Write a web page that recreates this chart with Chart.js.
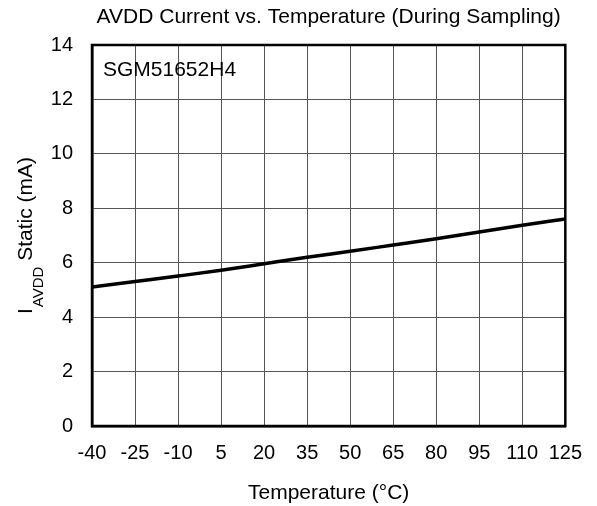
<!DOCTYPE html>
<html>
<head>
<meta charset="utf-8">
<script src="https://cdn.jsdelivr.net/npm/chart.js@4/dist/chart.umd.min.js"></script>
<style>
  html, body { margin: 0; padding: 0; background: #fff; }
  #wrap { width: 597px; height: 506px; }
</style>
</head>
<body>
<div id="wrap"><canvas id="avddChart" width="597" height="506"></canvas></div>
<script>
// Chart data
const temperatures = [-40, -25, -10, 5, 20, 35, 50, 65, 80, 95, 110, 125];
const avddCurrent = [5.11, 5.31, 5.51, 5.72, 5.96, 6.20, 6.42, 6.65, 6.88, 7.13, 7.38, 7.61];
const xTicks = [-40, -25, -10, 5, 20, 35, 50, 65, 80, 95, 110, 125];
const yTicks = [0, 2, 4, 6, 8, 10, 12, 14];

const FONT = "'Liberation Sans', Arial, sans-serif";

// Title over the plot, frame, annotation, y-axis title with subscript
const extrasPlugin = {
    id: 'extras',
    afterDraw(chart) {
        const ctx = chart.ctx;
        const a = chart.chartArea;
        ctx.save();
        ctx.strokeStyle = '#000';
        ctx.lineWidth = 2.5;
        ctx.strokeRect(a.left, a.top, a.right - a.left, a.bottom - a.top);

        ctx.fillStyle = '#000';
        ctx.font = '21px ' + FONT;
        ctx.textBaseline = 'middle';
        ctx.textAlign = 'center';
        ctx.fillText('AVDD Current vs. Temperature (During Sampling)', (a.left + a.right) / 2, 17);

        ctx.textBaseline = 'alphabetic';
        ctx.textAlign = 'left';
        ctx.fillText('SGM51652H4', a.left + 11, a.top + 31);

        // y-axis title: I_AVDD Static (mA)
        const mainFont = '21px ' + FONT;
        const subFont = '15px ' + FONT;
        ctx.font = mainFont;
        const wI = ctx.measureText('I').width;
        const wRest = ctx.measureText(' Static (mA)').width;
        ctx.font = subFont;
        const wSub = ctx.measureText('AVDD').width;
        const total = wI + 1 + wSub + wRest;
        const cy = (a.top + a.bottom) / 2;
        ctx.translate(32, cy + total / 2);
        ctx.rotate(-Math.PI / 2);
        ctx.font = mainFont;
        ctx.fillText('I', 0, 0);
        ctx.font = subFont;
        ctx.fillText('AVDD', wI + 1, 11);
        ctx.font = mainFont;
        ctx.fillText(' Static (mA)', wI + 1 + wSub, 0);
        ctx.restore();
    }
};

new Chart(document.getElementById('avddChart').getContext('2d'), {
    type: 'line',
    data: {
        datasets: [{
            data: temperatures.map((t, i) => ({ x: t, y: avddCurrent[i] })),
            borderColor: '#000',
            borderWidth: 3.5,
            pointRadius: 0,
            tension: 0.3,
            cubicInterpolationMode: 'monotone',
            fill: false
        }]
    },
    options: {
        responsive: false,
        animation: false,
        layout: { padding: { left: 0, right: 27, top: 45, bottom: 0 } },
        plugins: {
            legend: { display: false },
            tooltip: { enabled: false },
            title: { display: false }
        },
        scales: {
            x: {
                type: 'linear',
                min: -40,
                max: 125,
                afterBuildTicks(scale) {
                    scale.ticks = xTicks.map(v => ({ value: v }));
                },
                afterFit(scale) { scale.height = 80; },
                grid: { color: '#555', lineWidth: 1, drawTicks: false },
                border: { color: '#000', width: 2.5 },
                ticks: {
                    color: '#000',
                    padding: 15,
                    maxRotation: 0,
                    autoSkip: false,
                    font: { family: FONT, size: 20 }
                },
                title: {
                    display: true,
                    text: 'Temperature (°C)',
                    color: '#000',
                    font: { family: FONT, size: 21 },
                    padding: { top: 0, bottom: 0 }
                }
            },
            y: {
                min: 0,
                max: 14,
                afterBuildTicks(scale) {
                    scale.ticks = yTicks.map(v => ({ value: v }));
                },
                afterFit(scale) { scale.width = 92; },
                grid: { color: '#555', lineWidth: 1, drawTicks: false },
                border: { color: '#000', width: 2.5 },
                ticks: {
                    color: '#000',
                    padding: 19,
                    font: { family: FONT, size: 20 }
                }
            }
        }
    },
    plugins: [extrasPlugin]
});
</script>
</body>
</html>
